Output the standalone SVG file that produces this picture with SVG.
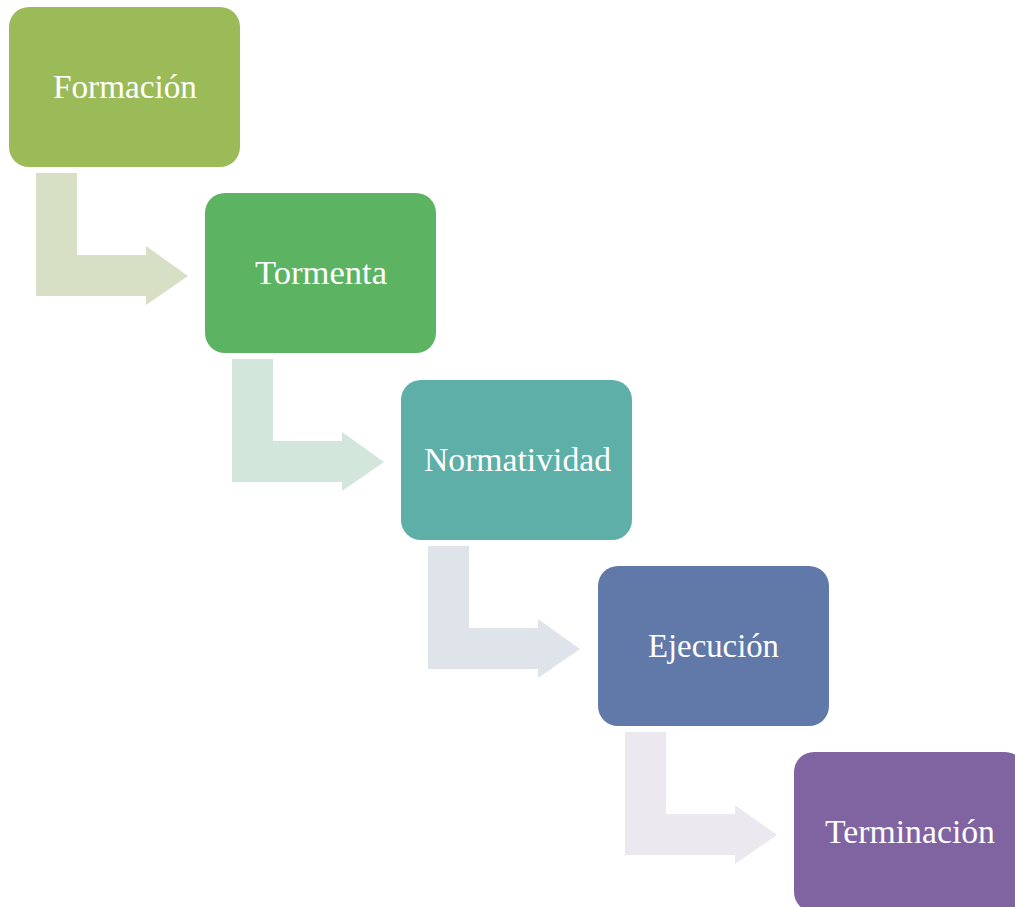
<svg xmlns="http://www.w3.org/2000/svg" width="1015" height="907" viewBox="0 0 1015 907">
  <defs>
    <style>
      .stage { stroke: none; }
      .label { font-family: "Liberation Serif", "Times New Roman", serif; font-size: 33px; fill: #FFFFFF; text-anchor: middle; }
    </style>
    <!-- bent arrow: down from the upper stage, then right into the next one -->
    <path id="bend" d="M0,0 H41 V82 H110 V73 L152,103 L110,132 V123 H0 Z"/>
  </defs>
  <rect width="1015" height="907" fill="#FFFFFF"/>

  <g id="connectors">
    <use href="#bend" x="36" y="173" fill="#D7E0C5"/>
    <use href="#bend" x="232" y="359" fill="#D2E6DB"/>
    <use href="#bend" x="428" y="546" fill="#DEE4EA"/>
    <use href="#bend" x="625" y="732" fill="#EBE9EF"/>
  </g>

  <g id="formacion">
    <rect class="stage" x="9" y="7" width="231" height="160" rx="20" fill="#9BBB59"/>
    <text class="label" x="125" y="98" textLength="144" lengthAdjust="spacingAndGlyphs">Formación</text>
  </g>
  <g id="tormenta">
    <rect class="stage" x="205" y="193" width="231" height="160" rx="20" fill="#5CB463"/>
    <text class="label" x="321" y="284" textLength="132" lengthAdjust="spacingAndGlyphs">Tormenta</text>
  </g>
  <g id="normatividad">
    <rect class="stage" x="401" y="380" width="231" height="160" rx="20" fill="#5DAFA7"/>
    <text class="label" x="517.5" y="471" textLength="187" lengthAdjust="spacingAndGlyphs">Normatividad</text>
  </g>
  <g id="ejecucion">
    <rect class="stage" x="598" y="566" width="231" height="160" rx="20" fill="#6079A8"/>
    <text class="label" x="713.5" y="657" textLength="131" lengthAdjust="spacingAndGlyphs">Ejecución</text>
  </g>
  <g id="terminacion">
    <rect class="stage" x="794" y="752" width="231" height="160" rx="20" fill="#8064A2"/>
    <text class="label" x="910" y="843" textLength="170" lengthAdjust="spacingAndGlyphs">Terminación</text>
  </g>
</svg>
